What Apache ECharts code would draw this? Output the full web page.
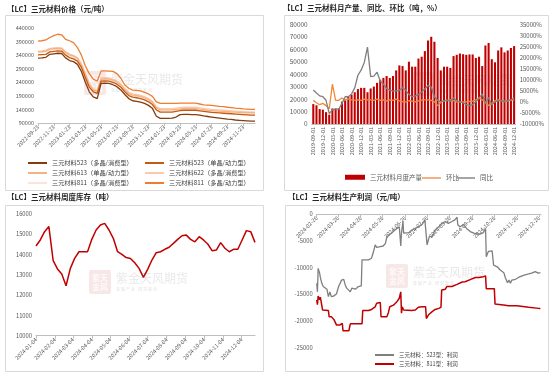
<!DOCTYPE html>
<html><head><meta charset="utf-8">
<script src="https://cdn.jsdelivr.net/npm/echarts/dist/echarts.min.js"></script>
<style>html,body{margin:0;padding:0;background:#fff}#c{width:550px;height:374px}</style>
</head><body><div id="c"></div>
<script>
// ---------- Panel 1: 三元材料价格 ----------
const tlNames = ['三元材料523（多晶/消费型）','三元材料523（单晶/动力型）','三元材料613（单晶/动力型）','三元材料622（多晶/消费型）','三元材料811（多晶/消费型）','三元材料811（多晶/动力型）'];
const p523poly = [329000,330000,332000,343000,345000,347000,346000,330000,320000,316000,306000,280000,240000,205000,186000,180000,236000,237000,236000,231000,224000,212000,195000,180000,172000,170000,167000,162000,155000,144000,115000,107000,107000,107000,108000,112000,121000,122000,122000,121000,121000,119000,116000,114000,112000,110000,108000,106000,104000,103000,101000,100000,99000,98000,97000,97000];
const p523single = [341000,342000,343000,352000,354000,356000,355000,340000,331000,326000,318000,295000,258000,222000,205000,199000,244000,245000,244000,240000,233000,222000,205000,191000,185000,183000,180000,175000,168000,158000,138000,130000,130000,130000,130000,133000,136000,137000,137000,137000,137000,135000,133000,131000,129000,128000,127000,126000,125000,124000,123000,122000,121000,120000,119000,119000];
const p613 = [352000,353000,355000,362000,364000,365000,364000,350000,341000,336000,328000,305000,268000,232000,212000,206000,252000,253000,252000,248000,241000,230000,213000,199000,193000,191000,188000,183000,176000,166000,146000,138000,138000,138000,138000,140000,142000,143000,143000,143000,143000,141000,139000,137000,136000,135000,134000,133000,132000,131000,130000,129000,129000,128000,128000,128000];
const p622 = [355000,356000,358000,365000,367000,368000,367000,353000,344000,339000,331000,308000,272000,236000,216000,210000,256000,257000,256000,252000,245000,234000,217000,203000,197000,195000,192000,187000,180000,170000,150000,143000,143000,143000,143000,145000,147000,148000,148000,148000,148000,146000,144000,142000,140000,139000,138000,137000,136000,135000,134000,133000,132000,131000,131000,130000];
const p811cons = [349000,350000,352000,359000,361000,362000,361000,347000,338000,333000,325000,302000,265000,229000,209000,203000,249000,250000,249000,245000,238000,227000,210000,196000,190000,188000,185000,180000,173000,163000,143000,134000,134000,134000,134000,137000,139000,140000,140000,140000,140000,138000,136000,134000,133000,132000,131000,130000,129000,128000,127000,126000,125000,124000,124000,124000];
const p811power = [392000,393000,396000,405000,412000,417000,415000,398000,393000,386000,368000,340000,300000,272000,252000,244000,282000,282000,281000,280000,272000,255000,230000,218000,211000,210000,208000,203000,197000,188000,168000,162000,162000,162000,162000,162000,163000,163000,163000,163000,163000,160000,157000,156000,155000,153000,151000,150000,148000,147000,145000,144000,142000,141000,140000,140000];

// ---------- Panel 2: 月产量、同比、环比 ----------
const trNames = ['三元材料月度产量','环比','同比'];
const trProd = [16000,15000,12000,11500,9500,7500,12500,12500,12500,18000,19000,22000,23500,25500,28000,29000,29000,25500,28500,30000,33000,35500,37000,38500,37000,38500,43000,47000,46500,43000,50000,46000,46000,52500,54000,58500,67000,70000,66000,53000,43000,46000,46000,45000,54500,55500,56500,56000,55500,55800,55800,53000,54000,46500,63000,65000,52000,49500,59000,61500,57500,59000,61000,62500];
const trMoM = [670,-400,-1300,-700,-1700,-3100,8000,700,700,1700,900,1300,900,700,900,700,1200,900,900,700,1200,700,900,400,900,700,1200,400,100,-100,500,300,0,400,800,900,900,700,0,-1700,-300,500,700,900,600,0,0,0,0,200,300,900,1700,900,0,-1700,-700,500,900,500,300,500,700,900];
const trYoY = [5300,4000,2700,2300,700,-5300,-3600,-3300,-3300,-700,2300,2300,3600,6300,12000,14300,17800,24700,11400,11600,13400,9400,8000,6000,5300,4800,5000,5300,6300,5300,3300,2300,2700,3300,4500,5800,7400,6700,2300,700,0,500,700,300,1700,400,0,-400,-1300,-1700,-1300,0,1700,3600,-900,2000,-1300,0,500,700,0,700,900,1700];

// ---------- Panel 3: 周度库存 ----------
const blStart = '2024-01-04', blEnd = '2024-12-26';
const blInv = [14420,14720,15130,15380,13700,13290,13040,12460,13320,13810,14140,14140,14140,14750,15210,15460,15540,15210,14800,14140,14010,13850,13810,13600,13320,12880,13270,13730,14090,14140,14260,14360,14550,14750,14930,14960,14750,14630,14880,14720,14520,14190,14220,14590,14310,14140,14260,14260,14720,15180,15130,14600];

// ---------- Panel 4: 生产利润 ----------
const brStart = '2024-02-26', brEnd = '2024-12-29';
const brNames = ['三元材料：523型：利润','三元材料：811型：利润'];
const p523Dates = ['2024-02-26','2024-02-27','2024-02-28','2024-03-01','2024-03-02','2024-03-04','2024-03-06','2024-03-08','2024-03-11','2024-03-13','2024-03-15','2024-03-17','2024-03-20','2024-03-22','2024-03-24','2024-03-27','2024-03-29','2024-03-31','2024-04-03','2024-04-05','2024-04-07','2024-04-09','2024-04-12','2024-04-14','2024-04-16','2024-04-19','2024-04-21','2024-04-23','2024-04-25','2024-04-27','2024-04-28','2024-05-02','2024-05-07','2024-05-11','2024-05-14','2024-05-16','2024-05-18','2024-05-23','2024-05-27','2024-05-30','2024-06-01','2024-06-03','2024-06-08','2024-06-12','2024-06-15','2024-06-18','2024-06-19','2024-06-20','2024-06-21','2024-06-23','2024-06-24','2024-06-26','2024-07-01','2024-07-05','2024-07-10','2024-07-14','2024-07-19','2024-07-21','2024-07-23','2024-07-26','2024-07-29','2024-07-31','2024-08-02','2024-08-06','2024-08-11','2024-08-15','2024-08-20','2024-08-24','2024-08-29','2024-09-02','2024-09-05','2024-09-06','2024-09-09','2024-09-14','2024-09-18','2024-09-23','2024-09-28','2024-10-02','2024-10-07','2024-10-11','2024-10-14','2024-10-15','2024-10-18','2024-10-23','2024-10-25','2024-10-30','2024-11-03','2024-11-08','2024-11-10','2024-11-13','2024-11-15','2024-11-17','2024-11-19','2024-11-24','2024-11-28','2024-12-03','2024-12-07','2024-12-12','2024-12-16','2024-12-21','2024-12-25','2024-12-28'];
const p523Profit = [-13000,-14600,-10200,-11100,-11900,-13000,-13600,-13700,-14100,-15500,-14600,-15500,-15400,-15500,-15000,-13600,-13300,-12400,-12250,-13300,-13900,-14250,-14600,-13900,-14250,-14100,-13900,-13600,-13600,-13500,-8600,-8600,-8600,-8300,-6900,-5800,-6250,-6100,-6000,-5500,-4250,-3900,-3500,-3000,-2700,-2400,-2300,-6000,-3600,-1400,-3600,-3300,-3500,-3000,-2700,-2400,-2000,-1750,-1100,-5800,-4250,-4000,-4250,-3000,-2400,-1750,-1400,-1750,-1400,-1100,-600,-2000,-2400,-2000,-2700,-3300,-3600,-3750,-3750,-3500,-2700,-8000,-7000,-6900,-9600,-9900,-10500,-11000,-11900,-12900,-12400,-13000,-12400,-12250,-11900,-11600,-11400,-11250,-11100,-10800,-11100,-11000];
const p811Dates = ['2024-02-26','2024-02-27','2024-02-28','2024-03-01','2024-03-02','2024-03-04','2024-03-05','2024-03-13','2024-03-14','2024-03-17','2024-03-21','2024-03-24','2024-03-29','2024-03-31','2024-04-01','2024-04-02','2024-04-10','2024-04-11','2024-04-12','2024-04-28','2024-04-29','2024-05-07','2024-05-11','2024-05-16','2024-05-18','2024-05-23','2024-05-24','2024-06-01','2024-06-03','2024-06-05','2024-06-10','2024-06-15','2024-06-18','2024-06-20','2024-06-21','2024-06-22','2024-06-24','2024-06-26','2024-07-05','2024-07-10','2024-07-14','2024-07-19','2024-07-24','2024-07-25','2024-07-28','2024-08-02','2024-08-06','2024-08-11','2024-08-14','2024-08-15','2024-08-20','2024-08-22','2024-08-29','2024-08-31','2024-09-05','2024-09-06','2024-09-12','2024-09-16','2024-09-18','2024-09-23','2024-09-25','2024-09-30','2024-10-05','2024-10-11','2024-10-14','2024-10-15','2024-10-26','2024-10-27','2024-11-10','2024-11-14','2024-11-26','2024-11-28','2024-12-12','2024-12-26','2024-12-28'];
const p811Profit = [-16100,-17000,-15400,-16100,-15600,-15800,-18000,-18100,-19250,-19250,-19900,-20800,-20800,-21000,-20500,-21900,-21900,-21800,-20600,-20600,-18100,-18100,-17900,-17400,-16750,-16600,-19250,-19250,-18500,-17400,-17100,-16400,-15800,-14600,-18600,-17400,-18000,-18100,-18100,-18000,-17500,-17400,-17400,-19600,-18900,-18300,-17900,-17700,-17500,-14250,-14100,-13600,-13600,-13300,-13200,-12900,-12750,-12700,-12400,-12300,-12050,-11900,-11900,-11750,-11600,-14000,-14000,-16900,-17100,-17200,-17200,-17500,-17500,-17700,-17700];

// ---------- helpers (build categories) ----------
function pad(n){return (n<10?'0':'')+n;}
function ymd(d){return d.getUTCFullYear()+'-'+pad(d.getUTCMonth()+1)+'-'+pad(d.getUTCDate());}
function dayRange(a,b){const out=[];let t=Date.parse(a+'T00:00:00Z');const e=Date.parse(b+'T00:00:00Z');while(t<=e){out.push(ymd(new Date(t)));t+=86400000;}return out;}
function semiMonthly(y,m,n){const out=[];for(let k=0;k<n;k++){const mo=(m-1)+Math.floor((k+1)/2);const d=new Date(Date.UTC(y,mo,k%2===0?23:8));out.push(ymd(d));}return out;}
function months(y,m,n){const out=[];for(let k=0;k<n;k++){out.push(ymd(new Date(Date.UTC(y,m-1+k,1))));}return out;}
function addDays(a,n){return ymd(new Date(Date.parse(a+'T00:00:00Z')+n*86400000));}

const tlDates = semiMonthly(2022,9,p811power.length);
const trMonths = months(2019,9,trProd.length);
const blDays = dayRange(blStart, blEnd);
const blWeeks = blInv.map((v,i)=>addDays(blStart,7*i));
const brDays = dayRange(brStart, brEnd);
const pairs = (days, dates, vals) => dates.map((d,i)=>[days.indexOf(d), vals[i]]);

const FONT = '"Noto Sans CJK SC","Noto Sans",sans-serif';
const LBL = '#595959';
const AX = '#bfbfbf';
const plain = v => String(v);
const BR_H = 133.3;

function wm(x,y){
  return {type:'group', x:x, y:y, silent:true, z:0, children:[
    {type:'rect', shape:{x:0,y:0,width:22,height:24,r:2}, style:{fill:'rgba(200,70,70,0.13)'}},
    {type:'text', style:{x:3,y:3,text:'紫天\n金风',font:'bold 8px '+FONT,fill:'rgba(255,255,255,0.75)',lineHeight:9}},
    {type:'text', style:{x:27,y:2,text:'紫金天风期货',font:'12px '+FONT,fill:'rgba(150,150,150,0.22)'}},
    {type:'text', style:{x:27,y:17,text:'金 融 产 业    研 究 驱 动',font:'4px '+FONT,fill:'rgba(150,150,150,0.3)'}}
  ]};
}
function box(x,y,w,h){return {type:'rect',shape:{x:x+0.5,y:y+0.5,width:w,height:h},style:{fill:null,stroke:'#d9d9d9',lineWidth:1},silent:true,z:0};}

const tlColors = {
 '三元材料523（多晶/消费型）':'#843C0C','三元材料523（单晶/动力型）':'#C55A11','三元材料613（单晶/动力型）':'#F4B183',
 '三元材料622（多晶/消费型）':'#F8CBAD','三元材料811（多晶/消费型）':'#FBE5D6','三元材料811（多晶/动力型）':'#ED7D31'};
const tlData = {
 '三元材料523（多晶/消费型）':p523poly,'三元材料523（单晶/动力型）':p523single,'三元材料613（单晶/动力型）':p613,
 '三元材料622（多晶/消费型）':p622,'三元材料811（多晶/消费型）':p811cons,'三元材料811（多晶/动力型）':p811power};
const drawOrder = [4,3,2,1,0,5];

const lineLeg = (extra) => Object.assign({icon:'rect', itemWidth:19, itemHeight:2, textStyle:{fontSize:6.2, color:'#404040', fontFamily:FONT, lineHeight:8}, padding:0, selectedMode:false}, extra);

const option = {
  animation:false,
  textStyle:{fontFamily:FONT},
  title:[
    {text:'【LC】三元材料价格（元/吨）', left:7, top:5, padding:0, textStyle:{fontSize:7.5, fontWeight:'bold', color:'#262626', fontFamily:FONT}},
    {text:'【LC】三元材料月产量、同比、环比（吨，%）', left:283, top:4, padding:0, textStyle:{fontSize:7.5, fontWeight:'bold', color:'#262626', fontFamily:FONT}},
    {text:'【LC】三元材料周度库存（吨）', left:7, top:193, padding:0, textStyle:{fontSize:7.5, fontWeight:'bold', color:'#262626', fontFamily:FONT}},
    {text:'【LC】三元材料生产利润（元/吨）', left:288, top:193, padding:0, textStyle:{fontSize:7.5, fontWeight:'bold', color:'#262626', fontFamily:FONT}}
  ],
  graphic:[
    box(5,15,258,175), box(284,15,264,175), box(5,205,258,166), box(285,205,263,166),
    wm(84,71), wm(412,72), wm(89,270), wm(386,264)
  ],
  legend:[
    lineLeg({left:28, top:159, orient:'vertical', itemGap:2, data:[tlNames[0],tlNames[2],tlNames[4]]}),
    lineLeg({left:145, top:159, orient:'vertical', itemGap:2, data:[tlNames[1],tlNames[3],tlNames[5]]}),
    {left:345, top:174, icon:'rect', itemWidth:20, itemHeight:5, padding:0, selectedMode:false, textStyle:{fontSize:6.5,color:'#595959',fontFamily:FONT}, data:[trNames[0]]},
    lineLeg({left:422, top:174, textStyle:{fontSize:6.5,color:'#595959',fontFamily:FONT,lineHeight:8}, data:[trNames[1]]}),
    lineLeg({left:456, top:174, textStyle:{fontSize:6.5,color:'#595959',fontFamily:FONT,lineHeight:8}, data:[trNames[2]]}),
    lineLeg({left:375, top:351, orient:'vertical', itemGap:1, textStyle:{fontSize:5.5,color:'#404040',fontFamily:FONT,lineHeight:8}, data:brNames})
  ],
  grid:[
    {left:38, top:28, width:217, height:95, containLabel:false, outerBoundsMode:'none'},
    {left:311.7, top:24.3, width:204, height:99.7, containLabel:false, outerBoundsMode:'none'},
    {left:36, top:214, width:219, height:121.7, containLabel:false, outerBoundsMode:'none'},
    {left:316.7, top:214, width:224.4, height:BR_H, containLabel:false, outerBoundsMode:'none'}
  ],
  xAxis:[
    {gridIndex:0, type:'category', data:tlDates, boundaryGap:false,
     axisLine:{lineStyle:{color:AX}}, axisTick:{interval:3, length:3, lineStyle:{color:AX}},
     axisLabel:{interval:3, rotate:45, fontSize:5.5, color:LBL, margin:3}},
    {gridIndex:1, type:'category', data:trMonths, boundaryGap:true,
     axisLine:{lineStyle:{color:AX}}, axisTick:{show:false},
     axisLabel:{interval:2, rotate:90, fontSize:5.5, color:LBL, margin:3}},
    {gridIndex:2, type:'category', data:blDays, boundaryGap:false,
     axisLine:{lineStyle:{color:AX}}, axisTick:{interval:(i,v)=>v.slice(8)==='04', length:3, lineStyle:{color:AX}},
     axisLabel:{interval:(i,v)=>v.slice(8)==='04', rotate:45, fontSize:5.5, color:LBL, margin:3}},
    {gridIndex:3, type:'category', data:brDays, boundaryGap:false, position:'bottom', offset:-BR_H,
     axisLine:{onZero:false, lineStyle:{color:AX}}, axisTick:{interval:(i,v)=>v.slice(8)==='26', length:3, lineStyle:{color:AX}},
     axisLabel:{interval:(i,v)=>v.slice(8)==='26', rotate:45, fontSize:5.5, color:LBL, margin:3}}
  ],
  yAxis:[
    {gridIndex:0, type:'value', min:90000, max:440000, interval:50000, splitLine:{show:false}, axisLine:{show:false}, axisTick:{show:false},
     axisLabel:{fontSize:5.5, color:LBL, margin:4, formatter:plain}},
    {gridIndex:1, type:'value', min:0, max:80000, interval:10000, splitLine:{show:false}, axisLine:{show:false}, axisTick:{show:false},
     axisLabel:{fontSize:6.5, color:LBL, margin:4, formatter:plain}},
    {gridIndex:1, type:'value', position:'right', min:-10000, max:35000, interval:5000, splitLine:{show:false}, axisLine:{show:false}, axisTick:{show:false},
     axisLabel:{fontSize:6, color:LBL, margin:4, formatter:v=>v+'%'}},
    {gridIndex:2, type:'value', min:10000, max:16000, interval:1000, splitLine:{show:false}, axisLine:{show:false}, axisTick:{show:false},
     axisLabel:{fontSize:5.8, color:LBL, margin:4, formatter:plain}},
    {gridIndex:3, type:'value', min:-25000, max:0, interval:5000, splitLine:{show:false}, axisLine:{show:false}, axisTick:{show:false},
     axisLabel:{fontSize:5.8, color:LBL, margin:4, formatter:plain}}
  ],
  series:[]
};

drawOrder.forEach(i=>{
  const n = tlNames[i];
  option.series.push({name:n, type:'line', xAxisIndex:0, yAxisIndex:0, data:tlData[n], symbol:'none',
    lineStyle:{width:1.3, color:tlColors[n]}, itemStyle:{color:tlColors[n]}, z:2});
});
option.series.push(
  {name:trNames[0], type:'bar', xAxisIndex:1, yAxisIndex:1, data:trProd, barCategoryGap:'35%', itemStyle:{color:'#C00000'}},
  {name:trNames[1], type:'line', xAxisIndex:1, yAxisIndex:2, data:trMoM, symbol:'none', lineStyle:{width:1.3,color:'#F0883A'}, itemStyle:{color:'#F4B183'}},
  {name:trNames[2], type:'line', xAxisIndex:1, yAxisIndex:2, data:trYoY, symbol:'none', lineStyle:{width:1.3,color:'#7F7F7F'}, itemStyle:{color:'#A5A5A5'}},
  {name:'库存', type:'line', xAxisIndex:2, yAxisIndex:3, data:pairs(blDays, blWeeks, blInv), symbol:'none', lineStyle:{width:1.5,color:'#C00000'}, itemStyle:{color:'#C00000'}},
  {name:brNames[0], type:'line', xAxisIndex:3, yAxisIndex:4, data:pairs(brDays, p523Dates, p523Profit), symbol:'none', lineStyle:{width:1.3,color:'#7F7F7F'}, itemStyle:{color:'#7F7F7F'}},
  {name:brNames[1], type:'line', xAxisIndex:3, yAxisIndex:4, data:pairs(brDays, p811Dates, p811Profit), symbol:'none', lineStyle:{width:1.5,color:'#C00000'}, itemStyle:{color:'#C00000'}}
);

const chart = echarts.init(document.getElementById('c'), null, {renderer:'canvas'});
chart.setOption(option);
</script></body></html>
